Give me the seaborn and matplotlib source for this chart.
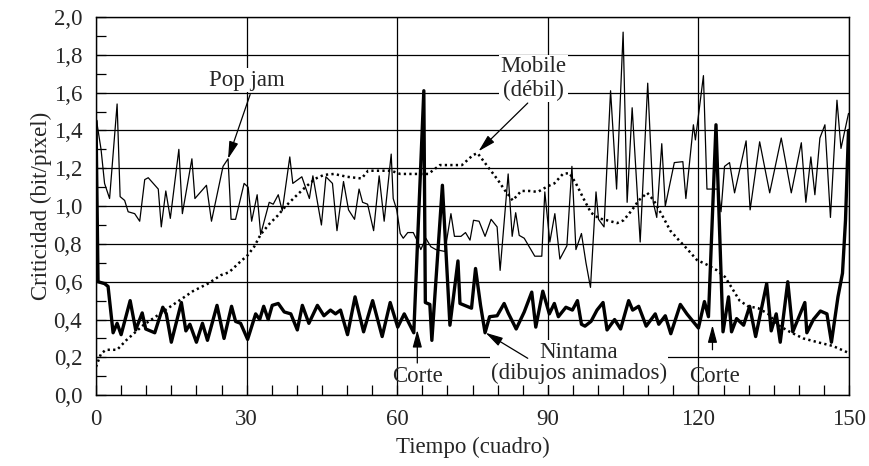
import numpy as np
import pandas as pd
import seaborn as sns
import matplotlib.pyplot as plt
from matplotlib.ticker import MultipleLocator

# Pop jam (thin line)
pj_t = [0, 1, 1.7, 2.7, 4.2, 4.8, 5.7, 6.4, 7.7, 8.7, 9.7, 10.4, 12.4, 13.0, 13.9, 14.8,
        16.5, 17.2, 19.1, 19.7, 22.0, 23.0, 25.3, 26.3, 26.9, 27.8, 29.5, 30.3, 31.0, 32.1,
        32.8, 34.5, 35.3, 36.3, 37.1, 38.6, 39.2, 41.0, 42.5, 43.2, 44.9, 45.8, 47.1, 48.0,
        49.3, 50.3, 51.5, 52.4, 53.1, 54.1, 55.3, 56.4, 57.4, 58.8, 59.2, 59.9, 60.6, 61.2,
        62.1, 63.2, 64.1, 64.7, 65.7, 66.7, 67.7, 69.5, 70.7, 71.4, 72.7, 73.6, 74.5, 75.2,
        76.3, 77.5, 78.7, 79.9, 80.5, 82.1, 82.9, 83.6, 84.3, 85.3, 87.4, 88.8, 89.4, 90.4,
        91.4, 92.4, 93.8, 94.8, 95.6, 96.7, 97.6, 98.5, 99.6, 100.1, 101.2, 102.5, 103.7,
        105.0, 105.8, 106.8, 108.4, 109.9, 111.0, 111.7, 112.7, 113.4, 115.2, 116.9, 117.5,
        119.0, 119.4, 121.0, 121.7, 123.9, 124.5, 125.2, 126.2, 127.2, 129.5, 130.3, 132.2,
        134.2, 136.5, 138.5, 140.5, 141.4, 142.4, 143.2, 144.2, 145.2, 146.3, 147.6, 148.4,
        149.9]
pj_v = [1.47, 1.30, 1.12, 1.04, 1.54, 1.05, 1.03, 0.97, 0.96, 0.92, 1.14, 1.15, 1.09, 0.89,
        1.08, 0.935, 1.30, 0.96, 1.25, 1.04, 1.11, 0.92, 1.21, 1.25, 0.93, 0.93, 1.12, 1.10,
        0.92, 1.06, 0.85, 1.02, 1.01, 1.06, 0.975, 1.26, 1.12, 1.155, 1.04, 1.16, 0.90,
        1.155, 1.12, 0.87, 1.13, 0.98, 0.93, 1.09, 1.02, 1.01, 0.87, 1.16, 0.92, 1.275, 1.04,
        0.98, 0.855, 0.83, 0.86, 0.86, 0.81, 0.77, 0.83, 0.785, 0.77, 0.76, 0.96, 0.84, 0.84,
        0.86, 0.82, 0.925, 0.92, 0.84, 0.93, 0.89, 0.66, 1.17, 0.84, 0.965, 0.845, 0.83,
        0.735, 0.735, 1.075, 0.81, 0.96, 0.72, 0.79, 1.21, 0.77, 0.855, 0.70, 0.57, 1.075,
        0.93, 0.89, 1.61, 1.09, 1.92, 1.02, 1.52, 0.81, 1.65, 1.02, 0.94, 1.33, 1.00, 1.23,
        1.235, 1.04, 1.43, 1.35, 1.69, 1.09, 1.09, 0.97, 1.21, 1.23, 1.07, 1.345, 0.98, 1.34,
        1.07, 1.36, 1.07, 1.335, 1.02, 1.26, 1.06, 1.36, 1.43, 0.94, 1.56, 1.305, 1.49]

# Mobile (debil) (dotted line)
mb_t = [0, 1, 2, 4.2, 6, 9.4, 12.7, 16, 19.3, 22.3, 24.9, 26.5, 28.5, 30.2, 31.5, 32.8, 34.5,
        36.2, 37.8, 39.7, 41.7, 43.7, 45.4, 47.4, 50.0, 52.9, 54.2, 58.8, 60.6, 66.2, 68.5,
        72.9, 75.1, 76.0, 78, 80, 81.4, 83, 84.7, 86.3, 88, 90, 91.3, 93, 94.3, 95.6, 97.3,
        98.6, 100.2, 101.8, 103.8, 105.1, 106.8, 108.1, 109.8, 111.1, 112.8, 114.4, 116.1,
        117.7, 119.7, 121.7, 123.7, 125.3, 126.6, 128.2, 129.9, 131.9, 133.9, 135.9, 138.2,
        140.9, 144.2, 146.8, 149.8]
mb_v = [0.15, 0.22, 0.24, 0.24, 0.29, 0.37, 0.43, 0.49, 0.55, 0.59, 0.635, 0.65, 0.70, 0.74,
        0.785, 0.85, 0.905, 0.95, 1.0, 1.05, 1.10, 1.145, 1.165, 1.17, 1.155, 1.146, 1.187,
        1.187, 1.17, 1.17, 1.217, 1.217, 1.27, 1.28, 1.21, 1.14, 1.085, 1.03, 1.08, 1.08,
        1.075, 1.105, 1.12, 1.17, 1.175, 1.12, 1.03, 0.965, 0.935, 0.925, 0.91, 0.925, 0.98,
        1.03, 1.07, 1.03, 0.95, 0.87, 0.82, 0.775, 0.715, 0.69, 0.66, 0.625, 0.57, 0.50,
        0.47, 0.46, 0.43, 0.37, 0.335, 0.30, 0.277, 0.26, 0.225]

# Nintama (dibujos animados) (thick line)
nt_t = [0, 0.4, 1.7, 2.4, 3.4, 4.2, 5.0, 6.8, 7.9, 9.2, 9.9, 11.7, 13.3, 14.0, 15.0, 17.0,
        17.9, 18.7, 20.0, 21.2, 22.2, 24.1, 25.5, 27.0, 27.8, 28.8, 30.2, 31.8, 32.6, 33.4,
        34.3, 35.1, 36.3, 37.5, 38.8, 40.1, 41.1, 42.4, 44.1, 45.4, 46.7, 47.7, 48.7, 50.1,
        51.6, 53.3, 55.1, 57.0, 58.6, 60.1, 61.4, 63.3, 65.3, 65.6, 66.5, 66.9, 69.0, 70.5,
        72.1, 72.5, 74.8, 75.6, 76.6, 77.5, 78.4, 79.9, 81.3, 82.1, 83.7, 85.3, 86.8, 87.6,
        89.0, 90.3, 91.3, 92.1, 93.6, 94.9, 95.9, 96.7, 97.4, 98.6, 99.8, 101.0, 101.8, 103.3,
        104.5, 106.1, 106.9, 108.1, 109.6, 111.4, 112.1, 113.4, 114.5, 116.4, 117.7, 120.0,
        121.2, 122.0, 123.5, 124.9, 126.0, 126.6, 127.6, 129.0, 130.2, 131.4, 133.6, 134.5,
        135.5, 136.3, 137.8, 138.8, 141.2, 141.6, 142.9, 144.3, 145.6, 146.5, 147.8, 148.7,
        149.3, 149.9]
nt_v = [1.45, 0.60, 0.59, 0.575, 0.33, 0.38, 0.32, 0.50, 0.345, 0.435, 0.35, 0.33, 0.465,
        0.43, 0.28, 0.49, 0.34, 0.375, 0.28, 0.38, 0.29, 0.475, 0.30, 0.47, 0.39, 0.38, 0.295,
        0.43, 0.40, 0.47, 0.40, 0.475, 0.485, 0.44, 0.43, 0.345, 0.475, 0.38, 0.475, 0.42,
        0.45, 0.43, 0.45, 0.32, 0.52, 0.335, 0.50, 0.31, 0.49, 0.36, 0.43, 0.33, 1.61, 0.49,
        0.48, 0.29, 1.11, 0.37, 0.71, 0.485, 0.46, 0.67, 0.475, 0.33, 0.415, 0.42, 0.485,
        0.435, 0.35, 0.44, 0.545, 0.36, 0.55, 0.43, 0.485, 0.415, 0.465, 0.45, 0.50, 0.375,
        0.365, 0.39, 0.45, 0.49, 0.345, 0.40, 0.35, 0.50, 0.45, 0.47, 0.365, 0.43, 0.375,
        0.42, 0.325, 0.48, 0.43, 0.355, 0.495, 0.415, 1.43, 0.335, 0.52, 0.335, 0.405, 0.37,
        0.47, 0.31, 0.59, 0.34, 0.43, 0.28, 0.60, 0.335, 0.49, 0.33, 0.40, 0.445, 0.43, 0.28,
        0.52, 0.645, 0.925, 1.40]

x_ticks = [0, 30, 60, 90, 120, 150]
y_ticks = [0.0, 0.2, 0.4, 0.6, 0.8, 1.0, 1.2, 1.4, 1.6, 1.8, 2.0]
y_labels = ["0,0", "0,2", "0,4", "0,6", "0,8", "1,0", "1,2", "1,4", "1,6", "1,8", "2,0"]

sns.set_style("ticks")
plt.rcParams["font.family"] = ["Liberation Serif", "DejaVu Serif"]
plt.rcParams["font.size"] = 16.5

fig, ax = plt.subplots(figsize=(8.69, 4.66), dpi=100)
fig.subplots_adjust(left=0.1105, right=0.977, bottom=0.152, top=0.9635)

sns.lineplot(x=pj_t, y=pj_v, ax=ax, color="black", lw=0.9, sort=False, estimator=None,
             zorder=3)
sns.lineplot(x=mb_t, y=mb_v, ax=ax, color="black", lw=1.8, linestyle=(0, (0.9, 1.3)),
             sort=False, estimator=None, zorder=3)
sns.lineplot(x=nt_t, y=nt_v, ax=ax, color="black", lw=2.4, sort=False, estimator=None,
             zorder=3)

ax.set_xlim(0, 150)
ax.set_ylim(0, 2.0)
ax.set_xticks(x_ticks)
ax.set_yticks(y_ticks)
ax.set_yticklabels(y_labels)
ax.xaxis.set_minor_locator(MultipleLocator(5))
ax.yaxis.set_minor_locator(MultipleLocator(0.1))
ax.tick_params(which="both", direction="in", length=7, width=0.9, color="black")
ax.tick_params(axis="x", which="major", pad=10)
ax.tick_params(axis="y", which="major", pad=10)
ax.grid(True, which="major", color="black", lw=0.9)
ax.set_axisbelow(True)
for s in ax.spines.values():
    s.set_color("black")
    s.set_linewidth(1.0)

ax.set_xlabel("Tiempo (cuadro)", labelpad=5)
ax.set_ylabel("Criticidad (bit/píxel)", labelpad=1)

arrow = dict(arrowstyle="-|>,head_length=0.75,head_width=0.2", color="black", lw=0.9,
             shrinkA=0, shrinkB=0, mutation_scale=14)
box = dict(facecolor="white", edgecolor="none", pad=1.0)

ax.text(30, 1.665, "Pop jam", ha="center", va="center", bbox=box, zorder=2.5)
ax.annotate("", xy=(26.3, 1.25), xytext=(30.7, 1.59), arrowprops=arrow, zorder=4)

ax.text(87.2, 1.675, "Mobile\n(débil)", ha="center", va="center", multialignment="center",
        linespacing=1.15, bbox=box, zorder=2.5)
ax.annotate("", xy=(76.2, 1.29), xytext=(86, 1.545), arrowprops=arrow, zorder=4)

ax.text(96.2, 0.172, "Nintama\n(dibujos animados)", ha="center", va="center",
        multialignment="center", linespacing=1.0, bbox=box, zorder=2.5)
ax.annotate("", xy=(77.6, 0.33), xytext=(86, 0.195), arrowprops=arrow, zorder=4)

ax.text(64, 0.10, "Corte", ha="center", va="center", zorder=2.5)
ax.annotate("", xy=(64, 0.345), xytext=(64, 0.17), arrowprops=arrow, zorder=4)

ax.text(123.2, 0.10, "Corte", ha="center", va="center", zorder=2.5)
ax.annotate("", xy=(122.8, 0.37), xytext=(122.8, 0.24), arrowprops=arrow, zorder=4)

plt.savefig("out.png", dpi=100)
